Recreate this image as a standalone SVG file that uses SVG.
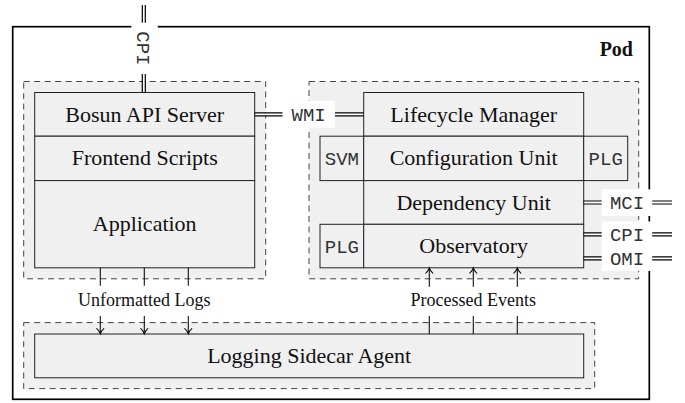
<svg xmlns="http://www.w3.org/2000/svg" width="685" height="403" viewBox="0 0 685 403">
  <defs>
    <style>
      .pod { fill: #ffffff; stroke: #000000; stroke-width: 1.7; }
      .grp { fill: #f0f0f0; stroke: #444444; stroke-width: 1; stroke-dasharray: 6 4.5; }
      .box { fill: #f0f0f0; stroke: #222222; stroke-width: 1; }
      .lbl-bg { fill: #ffffff; stroke: none; }
      .serif { font-family: "Liberation Serif", "Times New Roman", serif; fill: #111111; }
      .node-txt { font-size: 22px; text-anchor: middle; }
      .edge-txt { font-size: 18px; text-anchor: middle; }
      .mono { font-family: "Liberation Mono", "Courier New", monospace; font-size: 19px; fill: #333333; text-anchor: middle; }
      .dbl-out { stroke: #000000; stroke-width: 4.2; fill: none; }
      .dbl-in { stroke: #ffffff; stroke-width: 1.8; fill: none; }
      .wire { stroke: #111111; stroke-width: 1.1; fill: none; }
      .tip { stroke: #111111; stroke-width: 1.1; fill: none; stroke-linecap: round; }
    </style>
  </defs>

  <!-- Pod boundary -->
  <g id="pod">
    <rect class="pod" x="12.7" y="26.7" width="636.6" height="372.6"/>
    <text class="serif" x="633" y="56" font-size="20" font-weight="bold" text-anchor="end">Pod</text>
  </g>

  <!-- Container groups -->
  <g id="app-container">
    <rect class="grp" x="23.7" y="81.5" width="242" height="197.3"/>
  </g>
  <g id="bosun-container">
    <rect class="grp" x="309" y="81.5" width="329.7" height="197.3"/>
  </g>
  <g id="sidecar-container">
    <rect class="grp" x="23.7" y="322.6" width="571" height="66"/>
  </g>

  <!-- Application stack -->
  <g id="bosun-api-server">
    <rect class="box" x="34.7" y="92.5" width="220" height="43.7"/>
    <text class="serif node-txt" x="144.7" y="122.3">Bosun API Server</text>
  </g>
  <g id="frontend-scripts">
    <rect class="box" x="34.7" y="136.2" width="220" height="44.4"/>
    <text class="serif node-txt" x="144.7" y="165.2">Frontend Scripts</text>
  </g>
  <g id="application">
    <rect class="box" x="34.7" y="180.6" width="220" height="87.2"/>
    <text class="serif node-txt" x="144.7" y="231.4">Application</text>
  </g>

  <!-- Bosun stack -->
  <g id="lifecycle-manager">
    <rect class="box" x="363.7" y="92.5" width="220" height="43.7"/>
    <text class="serif node-txt" x="473.7" y="122.3">Lifecycle Manager</text>
  </g>
  <g id="svm">
    <rect class="box" x="320" y="136.2" width="43.7" height="44.4"/>
    <text class="mono" x="341.9" y="165">SVM</text>
  </g>
  <g id="configuration-unit">
    <rect class="box" x="363.7" y="136.2" width="220" height="44.4"/>
    <text class="serif node-txt" x="473.7" y="165.2">Configuration Unit</text>
  </g>
  <g id="plg-config">
    <rect class="box" x="583.7" y="136.2" width="44" height="44.4"/>
    <text class="mono" x="605.7" y="165">PLG</text>
  </g>
  <g id="dependency-unit">
    <rect class="box" x="363.7" y="180.6" width="220" height="43.7"/>
    <text class="serif node-txt" x="473.7" y="209.6">Dependency Unit</text>
  </g>
  <g id="plg-observatory">
    <rect class="box" x="320" y="224.3" width="43.7" height="43.5"/>
    <text class="mono" x="341.9" y="253">PLG</text>
  </g>
  <g id="observatory">
    <rect class="box" x="363.7" y="224.3" width="220" height="43.5"/>
    <text class="serif node-txt" x="473.7" y="253.3">Observatory</text>
  </g>

  <!-- Sidecar -->
  <g id="logging-sidecar-agent">
    <rect class="box" x="34.7" y="334" width="549" height="43.8"/>
    <text class="serif node-txt" x="309.2" y="363.3">Logging Sidecar Agent</text>
  </g>

  <!-- Connectors -->
  <g id="connectors">
    <!-- CPI into the API server from above -->
    <path class="dbl-out" d="M143.8,5 V92.5"/>
    <path class="dbl-in" d="M143.8,5 V92"/>
    <!-- WMI between API server and lifecycle manager -->
    <path class="dbl-out" d="M254.7,114.3 H363.7"/>
    <path class="dbl-in" d="M255.2,114.3 H363.2"/>
    <!-- MCI from dependency unit -->
    <path class="dbl-out" d="M583.7,202.5 H672"/>
    <path class="dbl-in" d="M584.2,202.5 H672"/>
    <!-- CPI from observatory -->
    <path class="dbl-out" d="M583.7,234.3 H672"/>
    <path class="dbl-in" d="M584.2,234.3 H672"/>
    <!-- OMI from observatory -->
    <path class="dbl-out" d="M583.7,258.3 H672"/>
    <path class="dbl-in" d="M584.2,258.3 H672"/>

    <!-- Unformatted logs: application -> sidecar -->
    <path class="wire" d="M100.3,267.8 V285.7 M100.3,316 V333.5"/>
    <path class="wire" d="M144.3,267.8 V285.7 M144.3,316 V333.5"/>
    <path class="wire" d="M188.3,267.8 V285.7 M188.3,316 V333.5"/>
    <path class="tip" d="M96.8,328.6 Q99.3,330.8 100.3,333.8 Q101.3,330.8 103.8,328.6"/>
    <path class="tip" d="M140.8,328.6 Q143.3,330.8 144.3,333.8 Q145.3,330.8 147.8,328.6"/>
    <path class="tip" d="M184.8,328.6 Q187.3,330.8 188.3,333.8 Q189.3,330.8 191.8,328.6"/>

    <!-- Processed events: sidecar -> observatory -->
    <path class="wire" d="M429.3,334 V316 M429.3,286.7 V268.3"/>
    <path class="wire" d="M473.3,334 V316 M473.3,286.7 V268.3"/>
    <path class="wire" d="M517.3,334 V316 M517.3,286.7 V268.3"/>
    <path class="tip" d="M425.8,273.2 Q428.3,271 429.3,268 Q430.3,271 432.8,273.2"/>
    <path class="tip" d="M469.8,273.2 Q472.3,271 473.3,268 Q474.3,271 476.8,273.2"/>
    <path class="tip" d="M513.8,273.2 Q516.3,271 517.3,268 Q518.3,271 520.8,273.2"/>

    <!-- Interface labels -->
    <rect class="lbl-bg" x="131.3" y="22.7" width="26.5" height="51.3"/>
    <text class="mono" transform="translate(143.8,48.4) rotate(90)" x="0" y="6.5">CPI</text>

    <rect class="lbl-bg" x="282.5" y="100.8" width="52.5" height="27"/>
    <text class="mono" x="308.6" y="120.8">WMI</text>

    <rect class="lbl-bg" x="601.7" y="189.3" width="50.5" height="26.7"/>
    <text class="mono" x="627" y="209">MCI</text>

    <rect class="lbl-bg" x="601.7" y="221.5" width="50.5" height="49.5"/>
    <text class="mono" x="627" y="240.8">CPI</text>
    <text class="mono" x="627" y="264.6">OMI</text>

    <text class="serif edge-txt" x="144.3" y="306">Unformatted Logs</text>
    <text class="serif edge-txt" x="473.3" y="306">Processed Events</text>
  </g>
</svg>
